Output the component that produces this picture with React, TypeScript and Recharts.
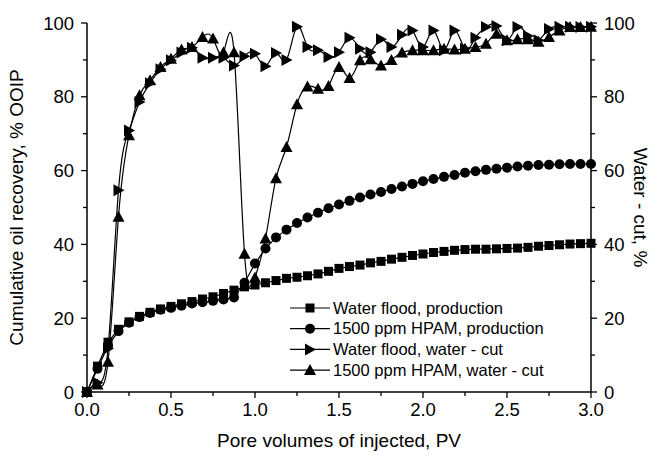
import { LineChart, Line, XAxis, YAxis, Legend } from "recharts";

const FONT = "'Liberation Sans', Arial, Helvetica, sans-serif";

// pore volumes injected (PV), one sample every 1/16 PV
const PV = [
  0, 0.0625, 0.125, 0.1875, 0.25, 0.3125, 0.375, 0.4375, 0.5, 0.5625, 0.625,
  0.6875, 0.75, 0.8125, 0.875, 0.9375, 1.0, 1.0625, 1.125, 1.1875, 1.25,
  1.3125, 1.375, 1.4375, 1.5, 1.5625, 1.625, 1.6875, 1.75, 1.8125, 1.875,
  1.9375, 2.0, 2.0625, 2.125, 2.1875, 2.25, 2.3125, 2.375, 2.4375, 2.5,
  2.5625, 2.625, 2.6875, 2.75, 2.8125, 2.875, 2.9375, 3.0,
];

// cumulative oil recovery, % OOIP
const WF_PROD = [
  0, 7, 13.5, 17, 19, 20.5, 21.6, 22.5, 23.2, 23.9, 24.5, 25.2, 25.8, 26.7,
  27.6, 28.5, 29, 29.6, 30.2, 30.8, 31.1, 31.5, 32, 32.7, 33.5, 34, 34.4, 35,
  35.4, 36, 36.5, 37, 37.4, 37.8, 38.1, 38.4, 38.6, 38.7, 38.7, 38.8, 38.9, 39,
  39.2, 39.5, 39.7, 39.9, 40.1, 40.2, 40.3,
];
const HPAM_PROD = [
  0, 6.3, 12.5, 16.5, 18.8, 20.3, 21.4, 22.3, 22.8, 23.4, 24, 24.3, 24.7, 25.1,
  25.6, 29.6, 34.8, 38.9, 41.9, 44, 45.8, 47.3, 48.6, 49.8, 50.8, 51.8, 52.7,
  53.5, 54.2, 55, 55.7, 56.4, 57.1, 57.7, 58.3, 58.8, 59.4, 59.8, 60.2, 60.5,
  60.8, 61.1, 61.3, 61.5, 61.6, 61.7, 61.8, 61.8, 61.8,
];

// water-cut, %
const WF_CUT = [
  0, 2.5, 11.8, 54.7, 70.9, 78.6, 83.7, 87.5, 89.9, 92, 93.3, 90.6, 90.6, 90.6,
  88.5, 91, 91.7, 88.3, 91.9, 90, 99, 93.5, 92.6, 90.8, 92.1, 96, 93, 92.1,
  95.6, 93.5, 96.8, 98, 93.5, 98, 92.6, 98, 93, 96, 98.9, 99.2, 95.3, 98.9,
  96.5, 95.3, 98.4, 99, 99, 98.9, 99,
];
const HPAM_CUT = [
  0, 2, 8.2, 47.5, 69.6, 80.4, 84.5, 88.1, 90.3, 92.8, 93.5, 96.2, 95.8, 92.1,
  92.1, 37.5, 31, 41.6, 57.9, 66.4, 78, 82.8, 82.2, 82.9, 88.1, 85.1, 89.9,
  90.2, 88.5, 90, 92, 92.6, 92.6, 92.6, 93, 92.8, 93, 93.5, 94.4, 97.1, 95.3,
  95.6, 95.6, 94.9, 96.2, 98, 98.9, 98.9, 99,
];

const X_TICKS = [0, 0.25, 0.5, 0.75, 1, 1.25, 1.5, 1.75, 2, 2.25, 2.5, 2.75, 3];
const Y_TICKS = [0, 10, 20, 30, 40, 50, 60, 70, 80, 90, 100];

const SERIES = [
  { key: "wfProd", name: "Water flood, production", shape: "square", axis: "l" },
  { key: "hpamProd", name: "1500 ppm HPAM, production", shape: "circle", axis: "l" },
  { key: "wfCut", name: "Water flood, water - cut", shape: "right", axis: "r" },
  { key: "hpamCut", name: "1500 ppm HPAM, water - cut", shape: "up", axis: "r" },
];

const data = PV.map((pv, i) => ({
  pv,
  wfProd: WF_PROD[i],
  hpamProd: HPAM_PROD[i],
  wfCut: WF_CUT[i],
  hpamCut: HPAM_CUT[i],
}));

function marker(shape: string, cx: number, cy: number, key?: any) {
  if (shape === "square")
    return <rect key={key} x={cx - 4.5} y={cy - 4.5} width={9} height={9} fill="#000" />;
  if (shape === "circle") return <circle key={key} cx={cx} cy={cy} r={5} fill="#000" />;
  if (shape === "right")
    return (
      <polygon
        key={key}
        points={`${cx - 5},${cy - 6} ${cx + 6},${cy} ${cx - 5},${cy + 6}`}
        fill="#000"
      />
    );
  return (
    <polygon
      key={key}
      points={`${cx},${cy - 6} ${cx + 6},${cy + 5} ${cx - 6},${cy + 5}`}
      fill="#000"
    />
  );
}

const XTick = (props: any) => {
  const { x, y, payload } = props;
  const v = payload.value;
  const major = Math.abs(v * 2 - Math.round(v * 2)) < 1e-6;
  return (
    <g>
      <line x1={x} x2={x} y1={y} y2={y + (major ? 6 : 4)} stroke="#000" strokeWidth={1.3} />
      {major && (
        <text x={x} y={y + 24} textAnchor="middle" fontSize={18.5} fill="#000" fontFamily={FONT}>
          {v.toFixed(1)}
        </text>
      )}
    </g>
  );
};

const YTick = (props: any) => {
  const { x, y, payload, side } = props;
  const v = payload.value;
  const major = v % 20 === 0;
  const s = side === "left" ? -1 : 1;
  return (
    <g>
      <line x1={x} x2={x + s * (major ? 6 : 4)} y1={y} y2={y} stroke="#000" strokeWidth={1.3} />
      {major && (
        <text
          x={x + s * 13}
          y={y}
          dy="0.36em"
          textAnchor={side === "left" ? "end" : "start"}
          fontSize={18.5}
          fill="#000"
          fontFamily={FONT}
        >
          {v}
        </text>
      )}
    </g>
  );
};

const YTitle = (props: any) => {
  const { viewBox, value, side } = props;
  const cy = viewBox.y + viewBox.height / 2;
  const cx = side === "left" ? viewBox.x + 16 : viewBox.x + 49;
  return (
    <text
      x={cx}
      y={cy}
      transform={`rotate(${side === "left" ? -90 : 90} ${cx} ${cy})`}
      textAnchor="middle"
      dominantBaseline="central"
      fontSize={19}
      fill="#000"
      fontFamily={FONT}
    >
      {value}
    </text>
  );
};

const LegendBox = () => (
  <svg width={280} height={88} style={{ display: "block" }}>
    {SERIES.map((s, i) => {
      const cy = 10 + i * 20.7;
      return (
        <g key={s.key}>
          <line x1={0} x2={40} y1={cy} y2={cy} stroke="#000" strokeWidth={1.2} />
          {marker(s.shape, 20, cy)}
          <text x={43} y={cy} dy="0.35em" fontSize={16.5} fill="#000" fontFamily={FONT}>
            {s.name}
          </text>
        </g>
      );
    })}
  </svg>
);

export default function App() {
  return (
    <div style={{ position: "absolute", left: 0, top: 0, fontFamily: FONT, background: "#fff" }}>
      <LineChart width={652} height={455} data={data} margin={{ top: 23, right: 0, bottom: 0, left: 0 }}>
        <XAxis
          xAxisId="b"
          type="number"
          dataKey="pv"
          domain={[0, 3]}
          ticks={X_TICKS}
          interval={0}
          height={63}
          tickSize={0}
          tickMargin={0}
          tickLine={false}
          tick={(p: any) => <XTick {...p} />}
          axisLine={{ stroke: "#000", strokeWidth: 1.5 }}
          label={{
            value: "Pore volumes of injected, PV",
            position: "insideBottom",
            offset: 8,
            fontSize: 19,
            fill: "#000",
            fontFamily: FONT,
          }}
        />
        <XAxis
          xAxisId="t"
          orientation="top"
          type="number"
          dataKey="pv"
          domain={[0, 3]}
          height={0}
          tick={false}
          tickLine={false}
          axisLine={{ stroke: "#000", strokeWidth: 1.5 }}
        />
        <YAxis
          yAxisId="l"
          type="number"
          domain={[0, 100]}
          ticks={Y_TICKS}
          interval={0}
          width={87}
          tickSize={0}
          tickMargin={0}
          tickLine={false}
          tick={(p: any) => <YTick {...p} side="left" />}
          axisLine={{ stroke: "#000", strokeWidth: 1.5 }}
          label={<YTitle side="left" value="Cumulative oil recovery, % OOIP" />}
        />
        <YAxis
          yAxisId="r"
          orientation="right"
          type="number"
          domain={[0, 100]}
          ticks={Y_TICKS}
          interval={0}
          width={61}
          tickSize={0}
          tickMargin={0}
          tickLine={false}
          tick={(p: any) => <YTick {...p} side="right" />}
          axisLine={{ stroke: "#000", strokeWidth: 1.5 }}
          label={<YTitle side="right" value="Water - cut, %" />}
        />
        <Legend
          layout="vertical"
          align="center"
          verticalAlign="middle"
          content={<LegendBox />}
          wrapperStyle={{ left: 290, top: 298, width: 280, height: 88 }}
        />
        {SERIES.map((s) => (
          <Line
            key={s.key}
            xAxisId="b"
            yAxisId={s.axis}
            dataKey={s.key}
            name={s.name}
            type={s.axis === "r" ? "natural" : "linear"}
            stroke="#000"
            strokeWidth={1.2}
            dot={(p: any) => marker(s.shape, p.cx, p.cy, p.index)}
            activeDot={false}
            isAnimationActive={false}
          />
        ))}
      </LineChart>
    </div>
  );
}
